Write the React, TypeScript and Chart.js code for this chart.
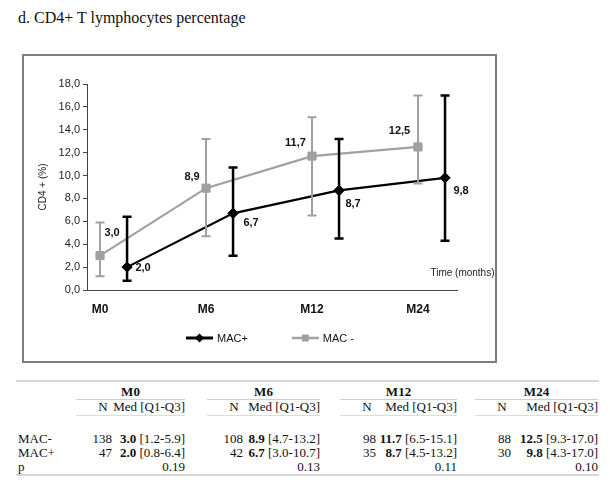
import React, { useEffect, useRef } from "react";
import { Chart, registerables } from "chart.js";

Chart.register(...registerables);

// ---------- data ----------
const timepoints = ["M0", "M6", "M12", "M24"];
const seriesNames = ["MAC+", "MAC -"];
const tableRowNames = ["MAC-", "MAC+", "p"];

const macPosN = [47, 42, 35, 30];
const macPosMedian = [2.0, 6.7, 8.7, 9.8];
const macPosQ1 = [0.8, 3.0, 4.5, 4.3];
const macPosQ3 = [6.4, 10.7, 13.2, 17.0];

const macNegN = [138, 108, 98, 88];
const macNegMedian = [3.0, 8.9, 11.7, 12.5];
const macNegQ1 = [1.2, 4.7, 6.5, 9.3];
const macNegQ3 = [5.9, 13.2, 15.1, 17.0];

const pValues = [0.19, 0.13, 0.11, 0.1];

const yMin = 0;
const yMax = 18;
const yStep = 2;

// ---------- styles ----------
const SANS = '"Liberation Sans", Arial, Helvetica, sans-serif';
const SERIF = '"Liberation Serif", "Times New Roman", Times, serif';
const BLACK = "#000000";
const GRAY = "#a0a0a0";
const MACPOS_SHIFT = 0.255; // horizontal dodge of the MAC+ series

const comma = (v: number) => v.toFixed(1).replace(".", ",");

// label offsets (px) relative to the marker, per series / point
const LABEL_OFFSETS: Record<string, [number, number][]> = {
  pos: [[16, 0.5], [18, 10], [14, 13.5], [16, 13]],
  neg: [[12, -23], [-14, -11.5], [-16.5, -13], [-18.5, -16]],
};

const errorBarPlugin = {
  id: "errorBars",
  afterDatasetsDraw(chart: any) {
    const { ctx } = chart;
    const y = chart.scales.y;
    const order = [1, 0];
    order.forEach((di) => {
      const ds: any = chart.data.datasets[di];
      const meta = chart.getDatasetMeta(di);
      ctx.save();
      ctx.strokeStyle = ds.errColor;
      ctx.lineWidth = ds.errWidth;
      ctx.lineCap = "butt";
      meta.data.forEach((pt: any, i: number) => {
        const x = pt.x;
        const yl = y.getPixelForValue(ds.errLow[i]);
        const yh = y.getPixelForValue(ds.errHigh[i]);
        ctx.beginPath();
        ctx.moveTo(x, yl);
        ctx.lineTo(x, yh);
        ctx.moveTo(x - 4.5, yl);
        ctx.lineTo(x + 4.5, yl);
        ctx.moveTo(x - 4.5, yh);
        ctx.lineTo(x + 4.5, yh);
        ctx.stroke();
      });
      ctx.restore();
    });
    [1, 0].forEach((di) => {
      const meta = chart.getDatasetMeta(di);
      meta.data.forEach((pt: any) => pt.draw(ctx, chart.chartArea));
    });
  },
};

const dataLabelPlugin = {
  id: "dataLabels",
  afterDatasetsDraw(chart: any) {
    const { ctx } = chart;
    ctx.save();
    ctx.font = `bold 11px ${SANS}`;
    ctx.fillStyle = "#111";
    ctx.textAlign = "center";
    ctx.textBaseline = "middle";
    chart.data.datasets.forEach((ds: any, di: number) => {
      const meta = chart.getDatasetMeta(di);
      const offs = LABEL_OFFSETS[ds.key];
      meta.data.forEach((pt: any, i: number) => {
        const v = ds.data[i].y;
        ctx.fillText(comma(v), pt.x + offs[i][0], pt.y + offs[i][1]);
      });
    });
    ctx.restore();
  },
};

const extrasPlugin = {
  id: "extras",
  afterDraw(chart: any) {
    const { ctx, chartArea } = chart;
    ctx.save();
    ctx.font = `10px ${SANS}`;
    ctx.fillStyle = "#222";
    ctx.textAlign = "right";
    ctx.textBaseline = "middle";
    ctx.fillText("Time (months)", chart.width - 0.5, chartArea.bottom - 17);

    ctx.font = `11px ${SANS}`;
    const lineLen = 27;
    const gapText = 4;
    const itemGap = 44;
    const items = chart.data.datasets.map((ds: any) => ({
      ds,
      w: lineLen + gapText + ctx.measureText(ds.label).width,
    }));
    const total = items.reduce((a: number, it: any) => a + it.w, 0) + itemGap * (items.length - 1);
    let x = (chartArea.left + chartArea.right) / 2 - 2 - total / 2;
    const yc = chartArea.bottom + 48;
    items.forEach((it: any) => {
      const ds = it.ds;
      ctx.strokeStyle = ds.borderColor;
      ctx.lineWidth = ds.key === "pos" ? 3 : 2.5;
      ctx.beginPath();
      ctx.moveTo(x, yc);
      ctx.lineTo(x + lineLen, yc);
      ctx.stroke();
      const cx = x + lineLen / 2;
      ctx.fillStyle = ds.pointBackgroundColor;
      ctx.beginPath();
      if (ds.pointStyle === "rectRot") {
        const r = 4.5;
        ctx.moveTo(cx - r, yc);
        ctx.lineTo(cx, yc - r);
        ctx.lineTo(cx + r, yc);
        ctx.lineTo(cx, yc + r);
        ctx.closePath();
      } else {
        ctx.rect(cx - 3.5, yc - 3.5, 7, 7);
      }
      ctx.fill();
      ctx.fillStyle = "#111";
      ctx.textAlign = "left";
      ctx.fillText(ds.label, x + lineLen + gapText, yc + 0.5);
      x += it.w + itemGap;
    });
    ctx.restore();
  },
};

function ChartBox() {
  const ref = useRef<HTMLCanvasElement>(null);
  useEffect(() => {
    if (!ref.current) return;
    const chart = new Chart(ref.current, {
      type: "scatter",
      data: {
        datasets: [
          {
            key: "pos",
            label: seriesNames[0],
            data: macPosMedian.map((v, i) => ({ x: i + MACPOS_SHIFT, y: v })),
            errLow: macPosQ1,
            errHigh: macPosQ3,
            errColor: BLACK,
            errWidth: 2.5,
            showLine: true,
            borderColor: BLACK,
            backgroundColor: BLACK,
            borderWidth: 2.2,
            pointStyle: "rectRot",
            pointRadius: 5,
            pointBorderWidth: 1,
            pointBackgroundColor: BLACK,
            pointBorderColor: BLACK,
          } as any,
          {
            key: "neg",
            label: seriesNames[1],
            data: macNegMedian.map((v, i) => ({ x: i, y: v })),
            errLow: macNegQ1,
            errHigh: macNegQ3,
            errColor: GRAY,
            errWidth: 2,
            showLine: true,
            borderColor: GRAY,
            backgroundColor: GRAY,
            borderWidth: 2.2,
            pointStyle: "rect",
            pointRadius: 5.5,
            pointBorderWidth: 1,
            pointBackgroundColor: GRAY,
            pointBorderColor: GRAY,
          } as any,
        ],
      },
      options: {
        responsive: false,
        animation: false,
        events: [],
        layout: { padding: { left: 9, right: 38, top: 28, bottom: 41 } },
        plugins: {
          legend: { display: false },
          tooltip: { enabled: false },
        },
        scales: {
          x: {
            type: "linear",
            min: -0.123,
            max: 3.368,
            afterBuildTicks: (s: any) => {
              s.ticks = timepoints.map((_, i) => ({ value: i }));
            },
            afterFit: (s: any) => {
              s.height = 30;
            },
            ticks: {
              autoSkip: false,
              maxRotation: 0,
              padding: 12,
              color: "#111",
              font: { family: SANS, size: 12, weight: "bold" },
              callback: (v: any) => timepoints[Math.round(Number(v))],
            },
            grid: { display: false, drawTicks: false },
            border: { display: true, color: "#444", width: 1 },
          },
          y: {
            min: yMin,
            max: yMax,
            afterFit: (s: any) => {
              s.width = 54;
            },
            ticks: {
              stepSize: yStep,
              padding: 3,
              color: "#222",
              font: { family: SANS, size: 11 },
              callback: (v: any) => comma(Number(v)),
            },
            grid: {
              drawOnChartArea: false,
              drawTicks: true,
              tickLength: 4,
              color: "#444",
            },
            border: { display: true, color: "#444", width: 1 },
            title: {
              display: true,
              text: "CD4 + (%)",
              color: "#222",
              font: { family: SANS, size: 10 },
              padding: { top: 4, bottom: 4 },
            },
          },
        },
      } as any,
      plugins: [errorBarPlugin, dataLabelPlugin, extrasPlugin],
    });
    return () => chart.destroy();
  }, []);
  return (
    <canvas
      ref={ref}
      width={471}
      height={305}
      style={{ display: "block", width: 471, height: 305 }}
    />
  );
}

// ---------- table layout ----------
const GROUP_L = [76, 207, 340, 475];
const GROUP_R = [185, 320, 457, 598];
const N_COL = 36;
const ROW_Y = { head: 392, sub: 407, neg: 438.5, pos: 452.5, p: 466.5 };

function Txt(props: {
  x?: number;
  right?: number;
  y: number;
  bold?: boolean;
  children: React.ReactNode;
  width?: number;
  center?: boolean;
}) {
  const style: React.CSSProperties = {
    position: "absolute",
    top: props.y - 8,
    height: 16,
    lineHeight: "16px",
    fontFamily: SERIF,
    fontSize: 13,
    color: "#111",
    whiteSpace: "nowrap",
    fontWeight: props.bold ? "bold" : "normal",
  };
  if (props.center) {
    style.left = props.x;
    style.width = props.width;
    style.textAlign = "center";
  } else if (props.right !== undefined) {
    style.right = 610 - props.right;
    style.textAlign = "right";
  } else {
    style.left = props.x;
  }
  return <div style={style}>{props.children}</div>;
}

function HLine(props: { x: number; w: number; y: number; h: number; c: string }) {
  return (
    <div
      style={{
        position: "absolute",
        left: props.x,
        top: props.y,
        width: props.w,
        height: props.h,
        background: props.c,
      }}
    />
  );
}

function StatsTable() {
  const rowsData = [
    { name: tableRowNames[0], y: ROW_Y.neg, n: macNegN, med: macNegMedian, q1: macNegQ1, q3: macNegQ3 },
    { name: tableRowNames[1], y: ROW_Y.pos, n: macPosN, med: macPosMedian, q1: macPosQ1, q3: macPosQ3 },
  ];
  return (
    <>
      <HLine x={16} w={583} y={380} h={2} c="#d6d6d6" />
      {timepoints.map((t, g) => (
        <React.Fragment key={t}>
          <Txt x={GROUP_L[g]} width={GROUP_R[g] - GROUP_L[g]} center bold y={ROW_Y.head}>
            {t}
          </Txt>
          <HLine x={GROUP_L[g]} w={GROUP_R[g] - GROUP_L[g]} y={399} h={1} c="#cfcfcf" />
          <Txt x={GROUP_L[g] + N_COL - 19} width={20} center y={ROW_Y.sub}>N</Txt>
          <Txt right={GROUP_R[g]} y={ROW_Y.sub}>Med [Q1-Q3]</Txt>
          <HLine x={GROUP_L[g]} w={GROUP_R[g] - GROUP_L[g]} y={415} h={1} c="#dcdcdc" />
          {rowsData.map((r) => (
            <React.Fragment key={r.name}>
              <Txt right={GROUP_L[g] + N_COL} y={r.y}>{r.n[g]}</Txt>
              <Txt right={GROUP_R[g]} y={r.y}>
                <b>{r.med[g].toFixed(1)}</b> [{r.q1[g].toFixed(1)}-{r.q3[g].toFixed(1)}]
              </Txt>
            </React.Fragment>
          ))}
          <Txt right={GROUP_R[g]} y={ROW_Y.p}>{pValues[g].toFixed(2)}</Txt>
        </React.Fragment>
      ))}
      {rowsData.map((r) => (
        <Txt key={r.name} x={18} y={r.y}>{r.name}</Txt>
      ))}
      <Txt x={18} y={ROW_Y.p}>{tableRowNames[2]}</Txt>
      <HLine x={16} w={583} y={474} h={2} c="#d6d6d6" />
    </>
  );
}

export default function App() {
  return (
    <div
      style={{
        position: "absolute",
        left: 0,
        top: 0,
        width: 610,
        height: 492,
        background: "#fff",
        overflow: "hidden",
      }}
    >
      <div
        style={{
          position: "absolute",
          left: 18,
          top: 8,
          fontFamily: SERIF,
          fontSize: 16,
          lineHeight: "20px",
          color: "#111",
          whiteSpace: "nowrap",
        }}
      >
        d. CD4+ T lymphocytes percentage
      </div>
      <div
        style={{
          position: "absolute",
          left: 22,
          top: 54,
          width: 471,
          height: 305,
          border: "2px solid #7f7f7f",
        }}
      >
        <ChartBox />
      </div>
      <StatsTable />
    </div>
  );
}
